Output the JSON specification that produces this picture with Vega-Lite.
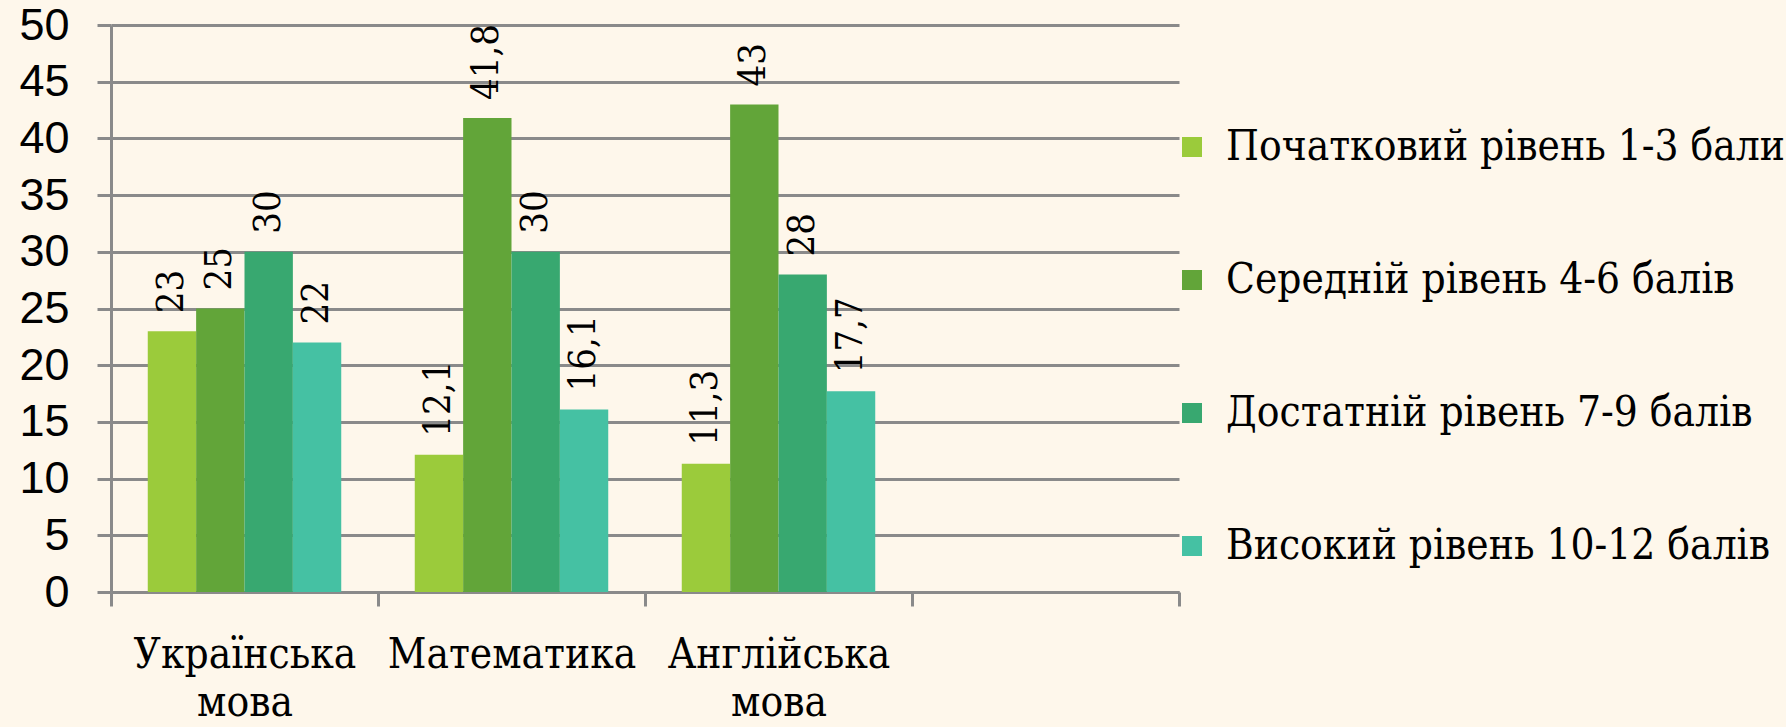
{
  "$schema": "https://vega.github.io/schema/vega-lite/v6.json",
  "width": 1068,
  "height": 567,
  "autosize": {"type": "none"},
  "padding": {"left": 111, "top": 25, "right": 607, "bottom": 135},
  "background": "#FEF7EB",
  "config": {"view": {"stroke": null}},
  "data": {
    "values": [
      {"subject": "Українська мова", "level": "Початковий рівень 1-3 бали", "value": 23},
      {"subject": "Українська мова", "level": "Середній рівень 4-6 балів", "value": 25},
      {"subject": "Українська мова", "level": "Достатній рівень 7-9 балів", "value": 30},
      {"subject": "Українська мова", "level": "Високий рівень  10-12 балів", "value": 22},
      {"subject": "Математика", "level": "Початковий рівень 1-3 бали", "value": 12.1},
      {"subject": "Математика", "level": "Середній рівень 4-6 балів", "value": 41.8},
      {"subject": "Математика", "level": "Достатній рівень 7-9 балів", "value": 30},
      {"subject": "Математика", "level": "Високий рівень  10-12 балів", "value": 16.1},
      {"subject": "Англійська мова", "level": "Початковий рівень 1-3 бали", "value": 11.3},
      {"subject": "Англійська мова", "level": "Середній рівень 4-6 балів", "value": 43},
      {"subject": "Англійська мова", "level": "Достатній рівень 7-9 балів", "value": 28},
      {"subject": "Англійська мова", "level": "Високий рівень  10-12 балів", "value": 17.7}
    ]
  },
  "transform": [
    {"calculate": "replace('' + datum.value, '.', ',')", "as": "label"}
  ],
  "encoding": {
    "x": {
      "field": "subject",
      "type": "nominal",
      "sort": null,
      "scale": {"domain": ["Українська мова", "Математика", "Англійська мова", " "], "paddingInner": 0, "paddingOuter": 0},
      "axis": {
        "title": null,
        "labelAngle": 0,
        "labelExpr": "split(datum.label, ' ')",
        "labelFont": "DejaVu Serif Condensed",
        "labelFontSize": 42,
        "labelColor": "#000000",
        "labelLineHeight": 48,
        "labelPadding": 28,
        "labelLimit": 600,
        "tickBand": "extent",
        "ticks": true,
        "tickSize": 14,
        "tickColor": "#8a8a8a",
        "tickWidth": 3,
        "domainColor": "#8a8a8a",
        "domainWidth": 3,
        "grid": false
      }
    },
    "xOffset": {
      "field": "level",
      "type": "nominal",
      "sort": null,
      "scale": {"domain": ["Початковий рівень 1-3 бали", "Середній рівень 4-6 балів", "Достатній рівень 7-9 балів", "Високий рівень  10-12 балів"], "paddingInner": 0, "paddingOuter": 0.76}
    },
    "y": {
      "field": "value",
      "type": "quantitative",
      "scale": {"domain": [0, 50], "nice": false},
      "axis": {
        "title": null,
        "values": [0, 5, 10, 15, 20, 25, 30, 35, 40, 45, 50],
        "labelFont": "Liberation Sans",
        "labelFontSize": 45,
        "labelColor": "#000000",
        "labelPadding": 28,
        "labelFlush": false,
        "tickSize": 14,
        "tickColor": "#8a8a8a",
        "tickWidth": 3,
        "domainColor": "#8a8a8a",
        "domainWidth": 3,
        "grid": true,
        "gridColor": "#8a8a8a",
        "gridWidth": 3
      }
    }
  },
  "layer": [
    {
      "mark": {"type": "bar"},
      "encoding": {
        "color": {
          "field": "level",
          "type": "nominal",
          "scale": {
            "domain": ["Початковий рівень 1-3 бали", "Середній рівень 4-6 балів", "Достатній рівень 7-9 балів", "Високий рівень  10-12 балів"],
            "range": ["#9BCB3B", "#62A539", "#38A870", "#45C1A3"]
          },
          "legend": {
            "orient": "none",
            "legendX": 1060,
            "legendY": 101,
            "title": null,
            "symbolType": "square",
            "symbolSize": 400,
            "symbolStrokeWidth": 0,
            "symbolOpacity": 1,
            "labelFont": "DejaVu Serif Condensed",
            "labelFontSize": 42,
            "labelColor": "#000000",
            "labelLimit": 700,
            "rowPadding": 91,
            "labelOffset": 13
          }
        }
      }
    },
    {
      "mark": {"type": "text", "angle": 270, "align": "left", "baseline": "middle", "dx": 18, "font": "DejaVu Serif Condensed", "fontSize": 38, "color": "#000000"},
      "encoding": {"text": {"field": "label"}}
    }
  ]
}
